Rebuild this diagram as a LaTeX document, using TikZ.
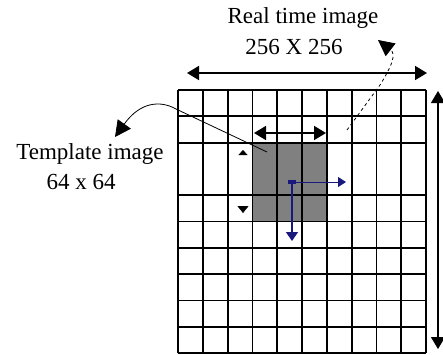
\documentclass[tikz,border=0pt]{standalone}
\usepackage{fontspec}
\setmainfont{Liberation Serif}
\usetikzlibrary{arrows.meta,positioning}
\definecolor{navy}{RGB}{25,25,125}

\begin{document}
\begin{tikzpicture}[
  x=1pt, y=-1pt,
  caption/.style={font=\fontsize{23}{26}\selectfont, inner sep=0pt},
  gridline/.style={line width=1.8pt, draw=black},
  span/.style={{Triangle[length=12pt,width=14pt]}-{Triangle[length=12pt,width=14pt]}, line width=1.7pt},
  pointer/.style={-{Triangle[length=16pt,width=16pt]}, line width=0.8pt},
  searcharrow/.style={draw=navy, -{Triangle[length=8pt,width=10pt]}, line width=0.9pt},
]
\useasboundingbox (0,0) rectangle (443,354);

% Template window
\coordinate (tl) at (252.4,142.6);
\coordinate (br) at (326.8,221.5);
\fill[gray] (tl) rectangle (br);

% Template height (tips only, drawn under the grid)
\coordinate (th0) at (243,150);
\coordinate (th1) at (243,213);
\draw[draw=white, {Triangle[black,length=5pt,width=9pt]}-{Triangle[black,length=7pt,width=11pt]}] (th0) -- (th1);

% Real time image grid (row 3 merged)
\foreach \i in {0,...,10}
  \draw[gridline] ({178+24.8*\i},90) -- ({178+24.8*\i},353);
\foreach \j in {0,1,2,4,5,6,7,8,9,10}
  \draw[gridline] (178,{90+26.3*\j}) -- (426,{90+26.3*\j});

% Labels
\node[caption] (rtlabel) at (303,18) {Real time image};
\node[caption] (rtsize) at (294,47) {256 X 256};
\node[caption] (tmpllabel) at (90,154) {Template image};
\node[caption] (tmplsize) at (81,182) {64 x 64};

% Image extent
\coordinate (w0) at (187,73);
\coordinate (w1) at (427,73);
\draw[span] (w0) -- (w1);
\coordinate (h0) at (438,91);
\coordinate (h1) at (438,349);
\draw[span, line width=1.2pt] (h0) -- (h1);

% Template width
\coordinate (tw0) at (254,133);
\coordinate (tw1) at (326,133);
\draw[span] (tw0) -- (tw1);

% Callouts
\coordinate (tp) at (267,152);
\coordinate (tq) at (176,109);
\coordinate (tt) at (115,137);
\draw[pointer] (tp) -- (tq) .. controls (160,100) and (140,102) .. (tt);
\coordinate (rp) at (347,130);
\coordinate (rq) at (380,85);
\coordinate (rt) at (378,40);
\draw[pointer, dashed] (rp) -- (rq) .. controls (393,64) and (396,54) .. (rt);

% Search directions
\coordinate (s0) at (292,182);
\coordinate (sx) at (346,182);
\coordinate (sy) at (292,241);
\fill[navy] (288,180) rectangle (296,184);
\draw[searcharrow] (s0) -- (sx);
\draw[searcharrow, line width=1.4pt, -{Triangle[length=9pt,width=12pt]}] (s0) -- (sy);

\end{tikzpicture}
\end{document}
